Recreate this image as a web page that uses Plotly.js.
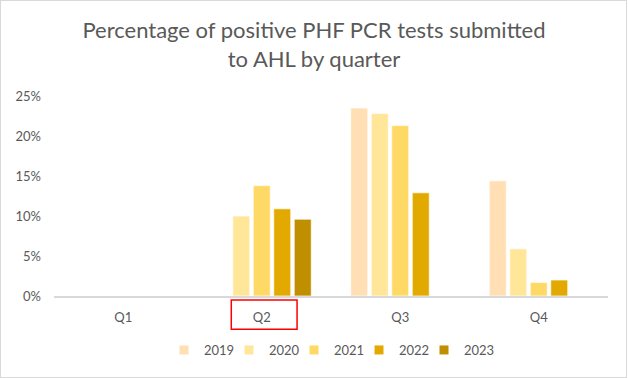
<!DOCTYPE html>
<html>
<head>
<meta charset="utf-8">
<script src="https://cdn.plot.ly/plotly-3.0.1.min.js"></script>
<style>
  html, body { margin: 0; padding: 0; background: #fff; }
  #wrap { position: relative; width: 628px; height: 378px; }
  #chart { width: 628px; height: 378px; }
  #frame { position: absolute; left: 0; top: 0; width: 627px; height: 378px; box-sizing: border-box;
           border: 1.5px solid #d9d9d9; pointer-events: none; }
</style>
</head>
<body>
<div id="wrap"><div id="chart"></div><div id="frame"></div></div>
<script>
const quarters = ['Q1', 'Q2', 'Q3', 'Q4'];
const years = ['2019', '2020', '2021', '2022', '2023'];
const v2019 = [null, null, 0.235, 0.144];
const v2020 = [null, 0.100, 0.228, 0.059];
const v2021 = [null, 0.138, 0.213, 0.017];
const v2022 = [null, 0.109, 0.129, 0.020];
const v2023 = [null, 0.096, null, null];
const yTicks = [0, 0.05, 0.10, 0.15, 0.20, 0.25];
const colors = ['#FFDFB3', '#FFE699', '#FFD966', '#E2AA00', '#BF8F00'];
const series = [v2019, v2020, v2021, v2022, v2023];

const font = 'Lato, "Open Sans", sans-serif';
const grey = '#595959';

const traces = [];
series.forEach((vals, i) => {
  traces.push({
    type: 'bar', x: quarters, y: vals, name: years[i], showlegend: false,
    marker: { color: colors[i], line: { color: 'rgba(255,255,255,0.7)', width: 1 } },
    hoverinfo: 'x+y+name'
  });
});
series.forEach((vals, i) => {
  traces.push({
    type: 'scatter', mode: 'markers', x: [null], y: [null], name: years[i],
    marker: { symbol: 'square', size: 9, color: colors[i] }, hoverinfo: 'skip'
  });
});
// spacer entry so the last legend label is not clipped
traces.push({
  type: 'scatter', mode: 'markers', x: [null], y: [null], name: ' ',
  marker: { symbol: 'square', size: 1, color: 'rgba(0,0,0,0)' }, hoverinfo: 'skip'
});

const layout = {
  width: 628, height: 378,
  margin: { l: 54, r: 20, t: 96, b: 82 },
  paper_bgcolor: '#fff', plot_bgcolor: '#fff',
  font: { family: font, color: grey, size: 13 },
  title: {
    text: 'Percentage of positive PHF PCR tests submitted<br>to AHL by quarter',
    font: { family: font, size: 22, color: grey },
    x: 0.5, xanchor: 'center', xref: 'container',
    y: 1 - 38 / 378, yref: 'container', yanchor: 'top'
  },
  barmode: 'group', bargap: 0.26, bargroupgap: 0.17,
  xaxis: {
    type: 'category', categoryorder: 'array', categoryarray: quarters,
    showline: true, linecolor: '#d9d9d9', linewidth: 1.5, showgrid: false,
    ticks: '', tickfont: { size: 13, color: grey }, ticklabelstandoff: 9,
    zeroline: false, fixedrange: true
  },
  yaxis: {
    range: [0, 0.25], tickvals: yTicks, tickformat: '.0%',
    showgrid: false, zeroline: false, showline: false, ticks: '',
    tickfont: { size: 13, color: grey }, ticklabelstandoff: 12, fixedrange: true
  },
  legend: {
    orientation: 'h', x: 110 / 554, xanchor: 'left', y: -0.27, yanchor: 'middle',
    font: { size: 13, color: grey }, entrywidth: 20, entrywidthmode: 'pixels',
    itemclick: false, itemdoubleclick: false
  },
  shapes: [{
    type: 'rect', xref: 'x', yref: 'paper',
    x0: 0.78, x1: 1.255, y0: -0.02, y1: -0.166,
    line: { color: '#FF0000', width: 1.5 }, fillcolor: 'rgba(0,0,0,0)'
  }],
  showlegend: true
};

Plotly.newPlot('chart', traces, layout, { displayModeBar: false, staticPlot: true });
</script>
</body>
</html>
